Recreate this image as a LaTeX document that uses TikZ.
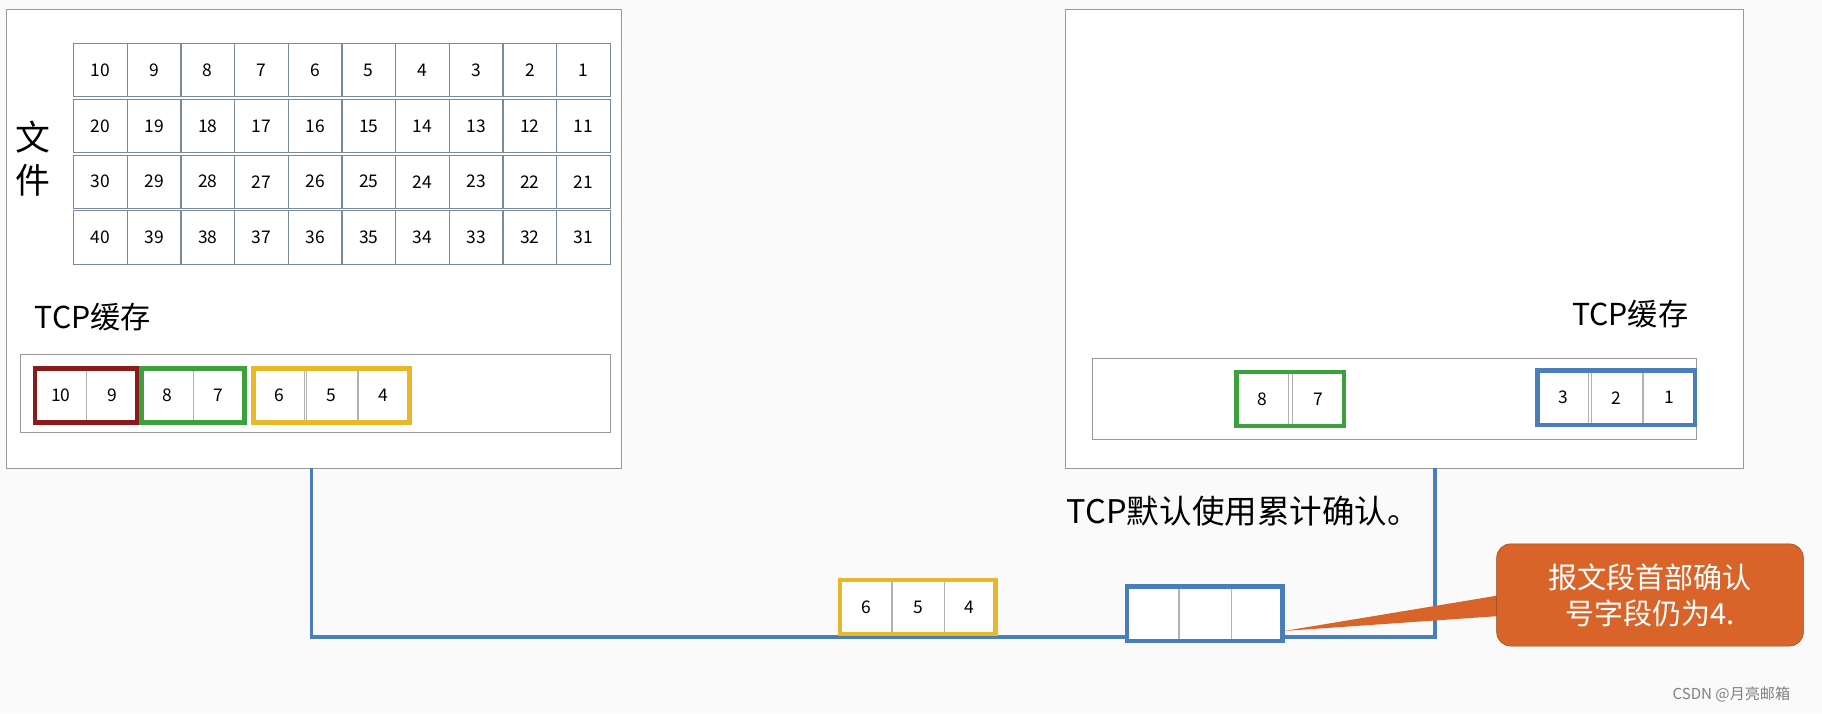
\documentclass[tikz,border=0pt]{standalone}
\usepackage{fontspec}
\setmainfont{Noto Sans CJK SC}
\definecolor{cred}{HTML}{8B1A1A}
\definecolor{cgreen}{HTML}{3CA03C}
\definecolor{cyel}{HTML}{E8B828}
\definecolor{cblue}{HTML}{4A7EBB}
\definecolor{corange}{HTML}{D8642A}
\definecolor{cgrid}{HTML}{7A8A9A}
\begin{document}
\begin{tikzpicture}[x=1pt,y=-1pt,
 cell/.style={draw=cgrid,line width=0.8pt,minimum width=46pt,minimum height=46pt,inner sep=0pt,font=\fontsize{15}{15}\selectfont,anchor=north west},
 bcell/.style={draw=gray!60,line width=0.6pt,minimum width=44pt,minimum height=46pt,inner sep=0pt,font=\fontsize{15}{15}\selectfont,anchor=north west},
 grp/.style={line width=4pt},
 lbl/.style={font=\fontsize{26}{26}\selectfont}]
\useasboundingbox[fill=white] (0,0) rectangle (1568,614);
\fill[gray!4] (0,0) rectangle (1568,614);
\draw[gray!80,fill=white] (5,8) rectangle (535,403);
\draw[gray!80,fill=white] (917,8) rectangle (1500,403);
% grid
\foreach \r in {0,...,3}{
 \foreach \c in {0,...,9}{
  \pgfmathtruncatemacro{\v}{\r*10+10-\c}
  \node[cell] (g\r\c) at (63+\c*46.2,37+\r*48) {\v};
 }}
\node[font=\fontsize{30}{30}\selectfont] (wj1) at (28,118) {文};
\node[font=\fontsize{30}{30}\selectfont] (wj2) at (28,155) {件};
\node[lbl] (lt) at (80,273) {TCP缓存};
\node[lbl] (rt) at (1403,270) {TCP缓存};
\draw[gray!80,fill=white] (17,305) rectangle (525,372);
\draw[gray!80,fill=white] (940,308) rectangle (1460,378);
% left buffer
\node[bcell] (a10) at (30,317) {10};
\node[bcell] (a9) at (74,317) {9};
\node[bcell] (a8) at (122,317) {8};
\node[bcell] (a7) at (166,317) {7};
\node[bcell] (a6) at (218,317) {6};
\node[bcell] (a5) at (263,317) {5};
\node[bcell] (a4) at (308,317) {4};
\draw[grp,cred] (a10.north west) rectangle (a9.south east);
\draw[grp,cgreen] (a8.north west) rectangle (a7.south east);
\draw[grp,cyel] (a6.north west) rectangle (a4.south east);
% right buffer
\node[bcell] (b8) at (1064,320) {8};
\node[bcell] (b7) at (1112,320) {7};
\node[bcell] (b3) at (1323,319) {3};
\node[bcell] (b2) at (1369,319) {2};
\node[bcell] (b1) at (1414,319) {1};
\draw[grp,cgreen] (b8.north west) rectangle (b7.south east);
\draw[grp,cblue] (b3.north west) rectangle (b1.south east);
\node[font=\fontsize{28}{28}\selectfont] (cum) at (1070,440) {TCP默认使用累计确认。};
% link
\coordinate (l1) at (268,403);
\coordinate (l2) at (268,548);
\coordinate (l3) at (1235,548);
\coordinate (l4) at (1235,403);
\draw[cblue,line width=3pt] (l1) -- (l2) -- (l3) -- (l4);
% segments
\node[bcell,fill=white] (s6) at (723,499) {6};
\node[bcell,fill=white] (s5) at (768,499) {5};
\node[bcell,fill=white] (s4) at (812,499) {4};
\draw[grp,cyel] (s6.north west) rectangle (s4.south east);
\node[bcell,fill=white] (e1) at (970,505) {};
\node[bcell,fill=white] (e2) at (1015,505) {};
\node[bcell,fill=white] (e3) at (1059,505) {};
\draw[grp,cblue] (e1.north west) rectangle (e3.south east);
% callout
\coordinate (tip) at (1105,543);
\fill[corange] (tip) -- (1292,512) -- (1292,530) -- cycle;
\node[fill=corange,draw=corange!70!black,rounded corners=12pt,minimum width=264pt,minimum height=88pt,text=white,align=center,font=\fontsize{25}{31}\selectfont] (co) at (1420,512) {报文段首部确认\\号字段仍为4.};
\node[text=gray,font=\fontsize{13}{13}\selectfont] (wm) at (1490,598) {CSDN @月亮邮箱};
\end{tikzpicture}
\end{document}
